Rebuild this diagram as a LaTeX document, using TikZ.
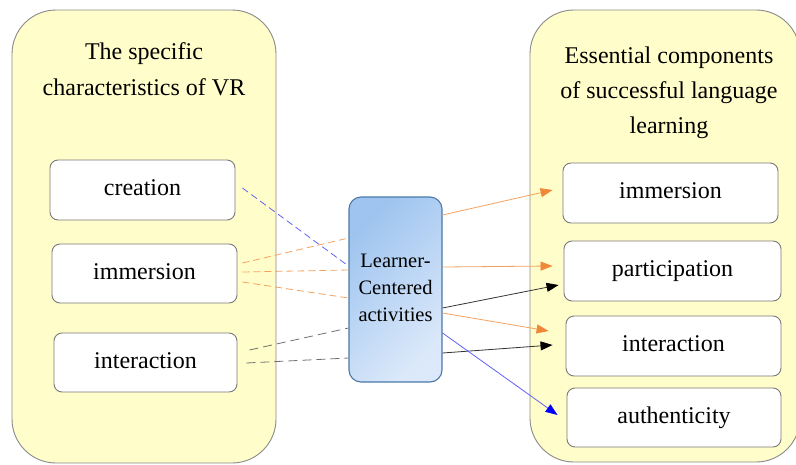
\documentclass[tikz,border=0pt]{standalone}
\usepackage{fontspec}
\setmainfont{Liberation Serif}
\usetikzlibrary{arrows.meta,calc}

\definecolor{panelfill}{HTML}{FFFDC9}
\definecolor{paneldraw}{HTML}{8A8A8A}
\definecolor{boxdraw}{HTML}{7A7A7A}
\definecolor{ctrdraw}{HTML}{4A79A8}
\definecolor{ctrtop}{HTML}{9EC4EF}
\definecolor{ctrbot}{HTML}{DCE9FA}
\definecolor{orangeln}{HTML}{F4A261}
\definecolor{orangetip}{HTML}{F0883A}
\definecolor{blueln}{HTML}{6262F6}
\definecolor{bluetip}{HTML}{0000FF}
\definecolor{greyln}{HTML}{6E6E6E}
\definecolor{darkln}{HTML}{333333}

\tikzset{
  panel/.style={draw=paneldraw, line width=0.9pt, fill=panelfill, rounded corners=44pt},
  itembox/.style={draw=boxdraw, line width=0.9pt, fill=white, rounded corners=8pt,
    inner sep=0pt, text height=16pt, text depth=5pt,
    font=\fontsize{24}{28}\selectfont},
  titletext/.style={anchor=base, inner sep=0pt, font=\fontsize{24}{28}\selectfont},
  ctrbox/.style={draw=ctrdraw, line width=1.1pt, rounded corners=12pt,
    top color=ctrtop, bottom color=ctrbot, shading angle=45,
    minimum width=93pt, minimum height=185pt, inner sep=0pt, align=center,
    font=\fontsize{20.5}{24}\selectfont},
  dashlink/.style={line width=0.8pt, dash pattern=on 7pt off 4pt},
  arrowlink/.style={line width=0.8pt, -{Triangle[length=12pt,width=9pt]}}
}

\begin{document}
\begin{tikzpicture}[x=1pt,y=-1pt]
\useasboundingbox (0,0) rectangle (796,464);

% the two large panels
\draw[panel] (12,10) rectangle (276,463);
\draw[panel] (530,10) rectangle (800,462);

% panel headings
\node[titletext] (lt1) at (144,59) {The specific};
\node[titletext] (lt2) at (144,95) {characteristics of VR};
\node[titletext] (rt1) at (669,63) {Essential components};
\node[titletext] (rt2) at (669,98) {of successful language};
\node[titletext] (rt3) at (669,133) {learning};

% left items
\node[itembox, minimum width=185pt, minimum height=60pt] (creL) at (142.5,190) {creation};
\node[itembox, minimum width=185pt, minimum height=59pt] (immL) at (144.5,273.5) {immersion};
\node[itembox, minimum width=183pt, minimum height=59pt] (intL) at (145.5,362.5) {interaction};

% right items
\node[itembox, minimum width=215pt, minimum height=60pt] (immR) at (670.5,193) {immersion};
\node[itembox, minimum width=217pt, minimum height=60pt] (parR) at (672.5,271) {participation};
\node[itembox, minimum width=215pt, minimum height=60pt] (intR) at (673.5,346) {interaction};
\node[itembox, minimum width=214pt, minimum height=59pt] (autR) at (674,417.5) {authenticity};

% centre box
\node[ctrbox] (ctr) at (395.5,289.5) {\raisebox{6pt}{\begin{tabular}{@{}c@{}}Learner-\\[3pt]Centered\\[3pt]activities\end{tabular}}};

% dashed links into the centre
\draw[dashlink, blueln] ([xshift=7pt,yshift=2pt]creL.east) -- ([yshift=23.5pt]ctr.west);
\draw[dashlink, orangeln] ([xshift=5pt,yshift=10.5pt]immL.east) -- ([yshift=51.5pt]ctr.west);
\draw[dashlink, orangeln] ([xshift=5pt,yshift=1.5pt]immL.east) -- ([yshift=19.5pt]ctr.west);
\draw[dashlink, orangeln] ([xshift=5pt,yshift=-8.5pt]immL.east) -- ([yshift=-8.5pt]ctr.west);
\draw[dashlink, greyln, dash pattern=on 9pt off 5pt] ([xshift=12pt,yshift=12.5pt]intL.east) -- ([yshift=-38.5pt]ctr.west);
\draw[dashlink, greyln, dash pattern=on 9pt off 5pt] ([xshift=9pt,yshift=-0.5pt]intL.east) -- ([yshift=-68.5pt]ctr.west);

% arrows out of the centre
\draw[arrowlink, orangeln, -{Triangle[length=12pt,width=9pt,fill=orangetip,color=orangetip]}]
  ([yshift=74.5pt]ctr.east) -- ([xshift=-10pt,yshift=3pt]immR.west);
\draw[arrowlink, orangeln, -{Triangle[length=12pt,width=9pt,fill=orangetip,color=orangetip]}]
  ([yshift=22.5pt]ctr.east) -- ([xshift=-11pt,yshift=5pt]parR.west);
\draw[arrowlink, darkln, -{Triangle[length=12pt,width=9pt,fill=black,color=black]}]
  ([yshift=-18.5pt]ctr.east) -- ([xshift=-5pt,yshift=-14pt]parR.west);
\draw[arrowlink, orangeln, -{Triangle[length=12pt,width=9pt,fill=orangetip,color=orangetip]}]
  ([yshift=-23.5pt]ctr.east) -- ([xshift=-17pt,yshift=15pt]intR.west);
\draw[arrowlink, darkln, -{Triangle[length=12pt,width=9pt,fill=black,color=black]}]
  ([yshift=-63.5pt]ctr.east) -- ([xshift=-13pt,yshift=1pt]intR.west);
\draw[arrowlink, blueln, -{Triangle[length=12pt,width=9pt,fill=bluetip,color=bluetip]}]
  ([yshift=-43.5pt]ctr.east) -- ([xshift=-9pt,yshift=2.5pt]autR.west);
\end{tikzpicture}
\end{document}
